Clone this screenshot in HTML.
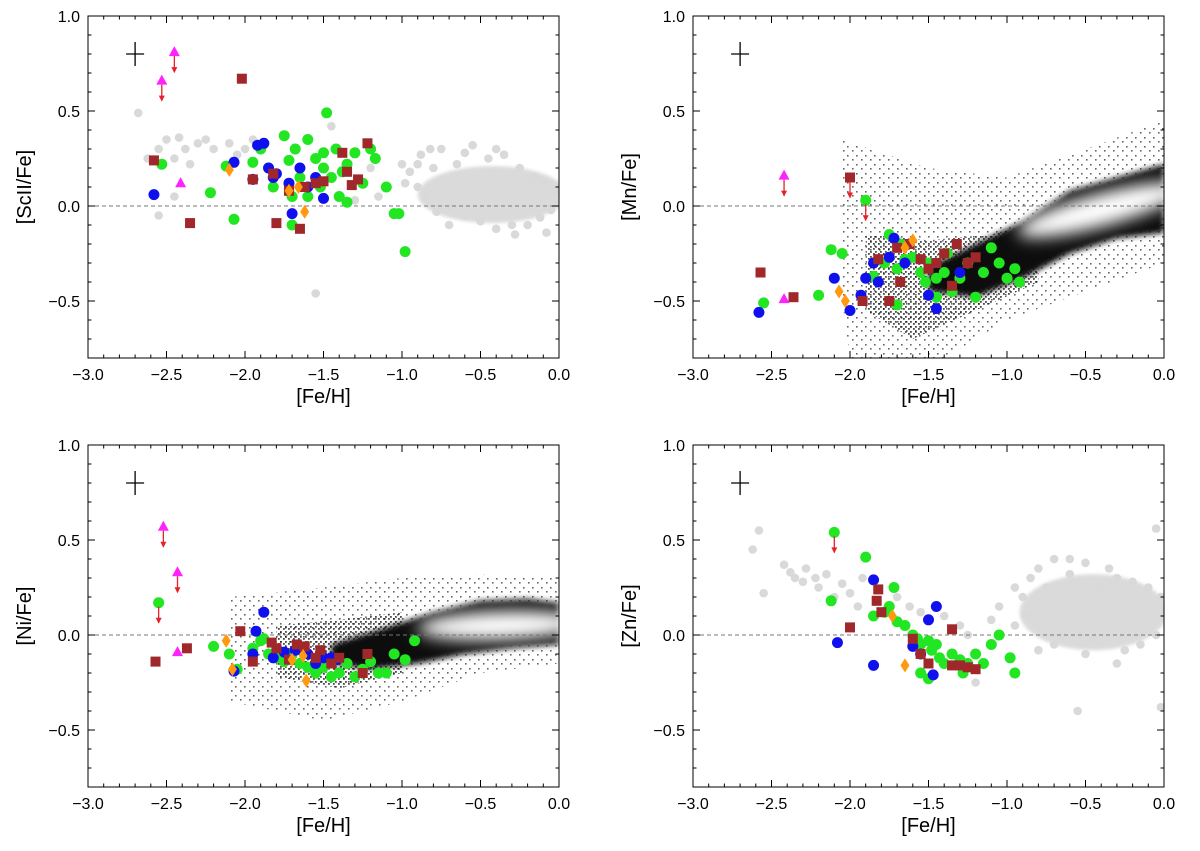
<!DOCTYPE html>
<html><head><meta charset="utf-8"><style>
body{margin:0;background:#fff;font-family:"Liberation Sans",sans-serif}
svg{display:block}
</style></head><body>
<svg id="fig" width="1200" height="851" viewBox="0 0 1200 851" xmlns="http://www.w3.org/2000/svg">
<defs>
<filter id="blur" x="-20%" y="-50%" width="140%" height="200%"><feGaussianBlur stdDeviation="1.5"/></filter>
<filter id="dblur" x="-20%" y="-50%" width="140%" height="200%"><feGaussianBlur stdDeviation="3"/></filter>
<filter id="wblur" x="-30%" y="-80%" width="160%" height="260%"><feGaussianBlur stdDeviation="8"/></filter>
<pattern id="speck" width="9" height="9" patternUnits="userSpaceOnUse"><rect x="1" y="2" width="1.6" height="1.6" fill="#000"/><rect x="6" y="6" width="1.6" height="1.6" fill="#000"/></pattern>
<pattern id="speck2" width="5" height="5" patternUnits="userSpaceOnUse"><rect x="0" y="1" width="1.8" height="1.8" fill="#000"/><rect x="3" y="3" width="1.8" height="1.8" fill="#000"/></pattern>
</defs>
</svg>
<script>
const NS='http://www.w3.org/2000/svg';
const svg=document.getElementById('fig');
function mk(tag,attrs,parent){const e=document.createElementNS(NS,tag);for(const k in attrs)e.setAttribute(k,attrs[k]);(parent||svg).appendChild(e);return e;}

// ---- data ----
const panelNames=['[ScII/Fe]','[Mn/Fe]','[Ni/Fe]','[Zn/Fe]'];
const xTicks=[-3.0,-2.5,-2.0,-1.5,-1.0,-0.5,0.0];
const yTicks=[-0.5,0.0,0.5,1.0];
// panel 1 ScII
const sc_green=[[-2.53,0.22],[-2.22,0.07],[-2.12,0.21],[-2.07,-0.07],[-1.95,0.23],[-1.9,0.3],[-1.85,0.2],[-1.75,0.37],[-1.72,0.24],[-1.7,0.05],[-1.68,0.3],[-1.65,0.15],[-1.6,0.35],[-1.55,0.25],[-1.52,0.1],[-1.5,0.2],[-1.48,0.49],[-1.45,0.15],[-1.42,0.3],[-1.4,0.05],[-1.38,0.18],[-1.35,0.22],[-1.3,0.28],[-1.25,0.12],[-1.2,0.3],[-1.17,0.25],[-1.1,0.1],[-1.05,-0.04],[-1.02,-0.04],[-0.98,-0.24],[-1.7,-0.1],[-1.82,0.1],[-1.6,0.05],[-1.35,0.02],[-1.5,0.28]];
const sc_blue=[[-2.58,0.06],[-2.07,0.23],[-1.95,0.14],[-1.92,0.32],[-1.88,0.33],[-1.85,0.2],[-1.82,0.15],[-1.72,0.12],[-1.7,-0.04],[-1.65,0.2],[-1.55,0.15],[-1.5,0.04],[-1.6,0.1],[-1.8,0.17]];
const sc_brown=[[-2.58,0.24],[-2.35,-0.09],[-2.02,0.67],[-1.95,0.14],[-1.82,0.17],[-1.8,-0.09],[-1.72,0.08],[-1.65,-0.12],[-1.62,0.1],[-1.55,0.12],[-1.5,0.13],[-1.38,0.28],[-1.35,0.18],[-1.32,0.11],[-1.28,0.14],[-1.22,0.33]];
const sc_orange=[[-2.1,0.19],[-1.66,0.1],[-1.62,-0.03],[-1.72,0.08]];
const sc_mag=[[-2.45,0.81,1],[-2.53,0.66,1],[-2.41,0.12,0]];
const sc_gray=[[-2.68,0.49],[-2.62,0.25],[-2.55,0.3],[-2.5,0.35],[-2.45,0.25],[-2.42,0.36],[-2.38,0.3],[-2.35,0.22],[-2.3,0.33],[-2.25,0.35],[-2.2,0.3],[-2.1,0.33],[-2.05,0.27],[-2.0,0.3],[-1.95,0.35],[-1.55,-0.46],[-1.45,0.42],[-1.2,0.2],[-1.15,0.05],[-1.0,0.22],[-0.95,0.18],[-0.9,0.1],[-0.88,0.27],[-0.8,0.2],[-0.75,0.3],[-0.6,0.28],[-0.55,0.32],[-0.45,0.25],[-0.35,0.27],[-0.25,0.2],[-0.15,0.15],[-0.1,0.12],[-0.05,-0.02],[-0.3,-0.1],[-0.6,-0.05],[-0.7,0.0],[-1.3,0.03],[-2.45,0.05],[-2.55,-0.05],[-0.85,0.05],[-0.78,-0.03],[-0.65,0.22],[-0.5,-0.08],[-0.4,-0.12],[-0.2,-0.1],[-0.12,-0.06],[-0.02,0.08],[-0.7,-0.1],[-0.9,0.22],[-0.98,0.12],[-0.82,0.3],[-0.4,0.3],[-0.28,-0.15],[-0.08,-0.14]];
// panel 2 Mn
const mn_green=[[-2.55,-0.51],[-2.2,-0.47],[-2.12,-0.23],[-2.05,-0.25],[-1.9,0.03],[-1.85,-0.37],[-1.78,-0.3],[-1.75,-0.15],[-1.7,-0.33],[-1.68,-0.2],[-1.65,-0.28],[-1.6,-0.27],[-1.55,-0.35],[-1.52,-0.4],[-1.5,-0.3],[-1.45,-0.38],[-1.4,-0.35],[-1.38,-0.25],[-1.35,-0.45],[-1.3,-0.38],[-1.25,-0.3],[-1.2,-0.48],[-1.15,-0.35],[-1.1,-0.22],[-1.05,-0.3],[-1.0,-0.38],[-0.95,-0.33],[-0.92,-0.4],[-1.7,-0.52],[-1.45,-0.48]];
const mn_blue=[[-2.58,-0.56],[-2.1,-0.38],[-2.0,-0.55],[-1.93,-0.47],[-1.9,-0.38],[-1.85,-0.3],[-1.82,-0.4],[-1.75,-0.27],[-1.72,-0.17],[-1.5,-0.47],[-1.45,-0.54],[-1.3,-0.35],[-1.65,-0.3]];
const mn_brown=[[-2.57,-0.35],[-2.36,-0.48],[-2.0,0.15],[-1.92,-0.5],[-1.82,-0.28],[-1.75,-0.5],[-1.7,-0.22],[-1.62,-0.2],[-1.55,-0.28],[-1.5,-0.33],[-1.45,-0.3],[-1.4,-0.25],[-1.35,-0.42],[-1.32,-0.2],[-1.25,-0.3],[-1.2,-0.27],[-1.68,-0.4]];
const mn_orange=[[-2.07,-0.45],[-2.03,-0.5],[-1.65,-0.22],[-1.6,-0.18]];
const mn_mag=[[-2.42,0.16,1],[-2.42,-0.49,0]];
const mn_limits=[[-2.0,0.15],[-1.9,0.03]];
// panel 3 Ni
const ni_green=[[-2.55,0.17],[-2.2,-0.06],[-2.1,-0.1],[-2.05,-0.18],[-1.95,-0.07],[-1.9,-0.03],[-1.85,-0.1],[-1.8,-0.12],[-1.75,-0.14],[-1.7,-0.1],[-1.65,-0.15],[-1.6,-0.17],[-1.55,-0.2],[-1.5,-0.17],[-1.45,-0.22],[-1.4,-0.2],[-1.35,-0.15],[-1.3,-0.22],[-1.25,-0.18],[-1.2,-0.14],[-1.15,-0.2],[-1.1,-0.2],[-1.05,-0.1],[-0.98,-0.13],[-0.92,-0.03],[-1.88,-0.02]];
const ni_blue=[[-2.07,-0.19],[-1.95,-0.1],[-1.93,0.02],[-1.88,0.12],[-1.82,-0.12],[-1.75,-0.09],[-1.68,-0.08],[-1.55,-0.15],[-1.5,-0.12],[-1.45,-0.12],[-1.42,-0.13],[-1.6,-0.1]];
const ni_brown=[[-2.57,-0.14],[-2.37,-0.07],[-2.03,0.02],[-1.95,-0.14],[-1.83,-0.04],[-1.8,-0.07],[-1.72,-0.13],[-1.67,-0.05],[-1.62,-0.06],[-1.55,-0.12],[-1.52,-0.08],[-1.45,-0.15],[-1.25,-0.2],[-1.22,-0.1],[-1.4,-0.12]];
const ni_orange=[[-2.12,-0.03],[-2.08,-0.18],[-1.7,-0.13],[-1.63,-0.11],[-1.61,-0.24]];
const ni_mag=[[-2.52,0.57,1],[-2.43,0.33,1],[-2.43,-0.09,0]];
const ni_limits=[[-2.55,0.17]];
// panel 4 Zn
const zn_green=[[-2.1,0.54],[-2.12,0.18],[-1.9,0.41],[-1.85,0.1],[-1.75,0.15],[-1.72,0.25],[-1.7,0.07],[-1.65,0.05],[-1.6,0.0],[-1.57,-0.02],[-1.55,-0.05],[-1.5,-0.03],[-1.48,-0.08],[-1.45,-0.05],[-1.43,-0.12],[-1.4,-0.15],[-1.35,-0.1],[-1.3,-0.13],[-1.28,-0.2],[-1.25,-0.15],[-1.2,-0.1],[-1.15,-0.15],[-1.1,-0.05],[-1.05,0.0],[-0.98,-0.12],[-0.95,-0.2],[-1.55,-0.2],[-1.5,-0.23],[-1.78,0.12]];
const zn_blue=[[-2.08,-0.04],[-1.85,0.29],[-1.85,-0.16],[-1.6,-0.06],[-1.55,-0.1],[-1.5,0.08],[-1.47,-0.21],[-1.45,0.15]];
const zn_brown=[[-2.0,0.04],[-1.82,0.24],[-1.83,0.18],[-1.8,0.12],[-1.6,-0.02],[-1.55,-0.1],[-1.5,-0.15],[-1.35,0.03],[-1.35,-0.16],[-1.3,-0.16],[-1.25,-0.17],[-1.2,-0.18]];
const zn_orange=[[-1.73,0.1],[-1.65,-0.16]];
const zn_limits=[[-2.1,0.54]];
const zn_gray=[[-2.62,0.45],[-2.58,0.55],[-2.55,0.22],[-2.42,0.37],[-2.38,0.33],[-2.35,0.3],[-2.3,0.28],[-2.28,0.35],[-2.22,0.3],[-2.2,0.25],[-2.15,0.32],[-2.1,0.2],[-2.05,0.27],[-2.0,0.22],[-1.95,0.15],[-1.92,0.3],[-1.7,0.2],[-1.62,0.15],[-1.55,0.12],[-1.4,0.1],[-1.3,0.05],[-1.25,0.0],[-1.1,0.08],[-1.05,0.15],[-0.95,0.05],[-0.9,0.2],[-0.85,0.3],[-0.8,0.35],[-0.7,0.4],[-0.6,0.32],[-0.5,0.38],[-0.4,0.25],[-0.3,0.3],[-0.2,0.28],[-0.1,0.25],[-0.05,0.56],[-0.3,-0.15],[-0.5,-0.1],[-0.55,-0.4],[-0.7,-0.05],[-0.15,-0.05],[-0.02,-0.38],[-1.2,-0.25],[-0.8,-0.08],[-0.88,0.1],[-0.75,0.25],[-0.65,0.0],[-0.45,-0.02],[-0.25,-0.08],[-0.05,0.0],[-0.02,0.2],[-0.35,0.35],[-0.6,0.4],[-0.95,0.25]];

const panels=[
 {x0:88,y0:16,label:panelNames[0],gray:sc_gray,blob:{x1:-0.9,x2:0.05,yc:0.06,h:0.15},green:sc_green,blue:sc_blue,brown:sc_brown,orange:sc_orange,mag:sc_mag,limits:[]},
 {x0:693,y0:16,label:panelNames[1],
  sparse:[[-2.05,0.35],[-1.5,0.2],[-1.0,0.15],[-0.5,0.3],[0,0.45],[0,-0.3],[-0.5,-0.45],[-1.0,-0.6],[-1.4,-0.8],[-2.0,-0.8],[-2.05,-0.5]],
  mid:[[-1.9,-0.15],[-1.5,-0.18],[-1.1,-0.15],[-0.8,-0.08],[-0.8,-0.4],[-1.2,-0.55],[-1.6,-0.7],[-1.9,-0.55]],
  dense:[[-1.5,-0.32],[-1.2,-0.2],[-0.9,-0.08],[-0.6,0.08],[-0.3,0.15],[0,0.22],[0,-0.14],[-0.3,-0.17],[-0.6,-0.25],[-0.9,-0.38],[-1.2,-0.48],[-1.5,-0.45]],
  white:{x1:-0.95,x2:0.15,yc:-0.02,h:0.085,rot:-15},
  green:mn_green,blue:mn_blue,brown:mn_brown,orange:mn_orange,mag:mn_mag,limits:mn_limits},
 {x0:88,y0:445,label:panelNames[2],
  sparse:[[-2.1,0.2],[-1.5,0.25],[-1.0,0.3],[-0.5,0.32],[0,0.3],[0,-0.15],[-0.5,-0.2],[-1.0,-0.35],[-1.5,-0.45],[-2.1,-0.35]],
  mid:[[-1.8,0.05],[-1.4,0.08],[-1.0,0.12],[-1.0,-0.2],[-1.4,-0.28],[-1.8,-0.22]],
  dense:[[-1.45,-0.05],[-1.1,0.04],[-0.8,0.12],[-0.5,0.18],[-0.2,0.19],[0,0.17],[0,-0.05],[-0.3,-0.07],[-0.6,-0.1],[-0.9,-0.15],[-1.2,-0.18],[-1.45,-0.15]],
  white:{x1:-0.9,x2:0.15,yc:0.05,h:0.075,rot:-2},
  green:ni_green,blue:ni_blue,brown:ni_brown,orange:ni_orange,mag:ni_mag,limits:ni_limits},
 {x0:693,y0:445,label:panelNames[3],gray:zn_gray,blob:{x1:-0.92,x2:0.02,yc:0.12,h:0.2},green:zn_green,blue:zn_blue,brown:zn_brown,orange:zn_orange,mag:[],limits:zn_limits}
];
const W=471,H=342;
panels.forEach((p,i)=>{
 const g=mk('g',{});
 
 
 const X=v=>p.x0+(v+3)/3*W, Y=v=>p.y0+(1-v)/1.8*H;
 const clip='clip'+i;
 const cp=mk('clipPath',{id:clip},g);mk('rect',{x:p.x0,y:p.y0,width:W,height:H},cp);
 const plot=mk('g',{'clip-path':'url(#'+clip+')'},g);
 const poly=(arr,fill,extra)=>{const e=mk('polygon',Object.assign({points:arr.map(d=>X(d[0])+','+Y(d[1])).join(' '),fill:fill},extra||{}),plot);return e;};
 if(p.blob){const b=mk('ellipse',{cx:(X(p.blob.x1)+X(p.blob.x2))/2,cy:Y(p.blob.yc),rx:(X(p.blob.x2)-X(p.blob.x1))/2,ry:p.blob.h/1.8*H,fill:'#dadada',filter:'url(#blur)'},plot);
  
  }
 if(p.gray){p.gray.forEach(d=>{const c=mk('circle',{cx:X(d[0]),cy:Y(d[1]),r:4.3,fill:'#d9d9d9'},plot);
  
  });}
 if(p.sparse){
  const s=poly(p.sparse,'url(#speck)',{opacity:0.6});
  
  
  const m=poly(p.mid,'url(#speck2)',{opacity:0.7});
  
  
  const d=poly(p.dense,'#0a0a0a',{filter:'url(#dblur)'});
  
  
  const w=p.white,cx=(X(w.x1)+X(w.x2))/2,cy=Y(w.yc);
  const e=mk('ellipse',{cx:cx,cy:cy,rx:(X(w.x2)-X(w.x1))/2,ry:w.h/1.8*H,fill:'#fff',filter:'url(#wblur)',transform:`rotate(${w.rot},${cx},${cy})`},plot);
  
  
 }
 mk('line',{x1:p.x0,x2:p.x0+W,y1:Y(0),y2:Y(0),stroke:'#777','stroke-dasharray':'4,3','stroke-width':1},plot);
 p.green.forEach(d=>{const c=mk('circle',{cx:X(d[0]),cy:Y(d[1]),r:5.5,fill:'#22e622'},plot);});
 p.blue.forEach(d=>{const c=mk('circle',{cx:X(d[0]),cy:Y(d[1]),r:5.5,fill:'#1010ee'},plot);});
 p.brown.forEach(d=>{const c=mk('rect',{x:X(d[0])-5,y:Y(d[1])-5,width:10,height:10,fill:'#a0282a'},plot);});
 p.orange.forEach(d=>{const x=X(d[0]),y=Y(d[1]);const c=mk('polygon',{points:`${x},${y-7} ${x+4.5},${y} ${x},${y+7} ${x-4.5},${y}`,fill:'#ff9a10'},plot);});
 const arrow=(x,y)=>{mk('line',{x1:x,y1:y+4,x2:x,y2:y+20,stroke:'#e8202a','stroke-width':1.3},plot);mk('polygon',{points:`${x-3},${y+15} ${x+3},${y+15} ${x},${y+21}`,fill:'#e8202a'},plot);};
 p.mag.forEach(d=>{const x=X(d[0]),y=Y(d[1]);if(d[2])arrow(x,y);const c=mk('polygon',{points:`${x},${y-6} ${x+5.5},${y+4} ${x-5.5},${y+4}`,fill:'#ff22ff'},plot);});
 p.limits.forEach(d=>arrow(X(d[0]),Y(d[1])));
 const ex=X(-2.7),ey=Y(0.8);
 mk('line',{x1:ex-9,x2:ex+9,y1:ey,y2:ey,stroke:'#000','stroke-width':1.3},g);
 mk('line',{x1:ex,x2:ex,y1:ey-12,y2:ey+12,stroke:'#000','stroke-width':1.3},g);
 const fr=mk('rect',{x:p.x0,y:p.y0,width:W,height:H,fill:'none',stroke:'#000','stroke-width':1},g);
 
 for(let k=0;k<=30;k++){const v=-3+k*0.1,x=X(v),L=(k%5==0)?7:3.5;
  mk('line',{x1:x,x2:x,y1:p.y0+H,y2:p.y0+H-L,stroke:'#000'},g);mk('line',{x1:x,x2:x,y1:p.y0,y2:p.y0+L,stroke:'#000'},g);}
 for(let k=-8;k<=10;k++){const v=k*0.1,y=Y(v),L=(k%5==0)?7:3.5;
  mk('line',{x1:p.x0,x2:p.x0+L,y1:y,y2:y,stroke:'#000'},g);mk('line',{x1:p.x0+W,x2:p.x0+W-L,y1:y,y2:y,stroke:'#000'},g);}
 xTicks.forEach(v=>{const t=mk('text',{x:X(v),y:p.y0+H+22,'font-size':16,'text-anchor':'middle'},g);t.textContent=v.toFixed(1).replace('-','\u2212');
  });
 yTicks.forEach(v=>{const t=mk('text',{x:p.x0-8,y:Y(v)+6,'font-size':16,'text-anchor':'end'},g);t.textContent=v.toFixed(1).replace('-','\u2212');
  });
 const xl=mk('text',{x:p.x0+W/2,y:p.y0+H+45,'font-size':20,'text-anchor':'middle'},g);xl.textContent='[Fe/H]';
 
 const yl=mk('text',{x:0,y:0,'font-size':20,'text-anchor':'middle',transform:`translate(${p.x0-57},${p.y0+H/2}) rotate(-90)`},g);yl.textContent=p.label;
 
});
</script>
</body></html>
